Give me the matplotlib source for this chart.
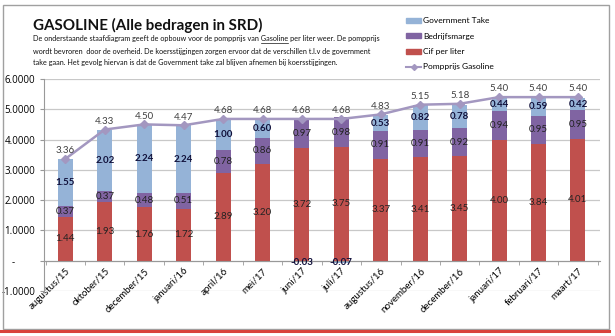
import matplotlib
matplotlib.use("Agg")
import matplotlib.pyplot as plt
import numpy as np
from matplotlib.patches import Rectangle
from matplotlib.lines import Line2D

plt.rcParams['font.family'] = ['Lato', 'DejaVu Sans']

maanden = ["augustus/15", "oktober/15", "december/15", "januari/16", "april/16",
           "mei/17", "juni/17", "juli/17", "augustus/16", "november/16",
           "december/16", "januari/17", "februari/17", "maart/17"]
cif = [1.44, 1.93, 1.76, 1.72, 2.89, 3.20, 3.72, 3.75, 3.37, 3.41, 3.45, 4.00, 3.84, 4.01]
marge = [0.37, 0.37, 0.48, 0.51, 0.78, 0.86, 0.97, 0.98, 0.91, 0.91, 0.92, 0.94, 0.95, 0.95]
gov = [1.55, 2.02, 2.24, 2.24, 1.00, 0.60, -0.03, -0.07, 0.53, 0.82, 0.78, 0.44, 0.59, 0.42]
pompprijs = [3.36, 4.33, 4.50, 4.47, 4.68, 4.68, 4.68, 4.68, 4.83, 5.15, 5.18, 5.40, 5.40, 5.40]

c_cif = "#c0504d"
c_marge = "#8064a2"
c_gov = "#95b3d7"
c_line = "#a397c0"

fig = plt.figure(figsize=(6.15, 3.36), dpi=100)
ax = fig.add_axes([0.071, 0.134, 0.904, 0.631])

# eerst de as op 0 zetten, anders worden de tick-instellingen gereset
ax.spines["bottom"].set_position(("data", 0))
ax.spines["bottom"].set_color("#999999")
ax.spines["left"].set_color("#999999")
ax.spines["top"].set_visible(False)
ax.spines["right"].set_visible(False)

x = np.arange(len(maanden))
w = 0.38
cif = np.array(cif)
marge = np.array(marge)
gov = np.array(gov)

ax.bar(x, cif, w, color=c_cif, zorder=2)
ax.bar(x, marge, w, bottom=cif, color=c_marge, zorder=2)
# negatieve government take wordt (zoals in excel) vanaf 0 naar beneden gestapeld
gov_bottom = np.where(gov >= 0, cif + marge, 0)
ax.bar(x, gov, w, bottom=gov_bottom, color=c_gov, zorder=2)

ax.plot(x, pompprijs, color=c_line, lw=1.8, marker="D", ms=4, zorder=3)

# labels
for i in range(len(x)):
    ax.text(x[i], cif[i] / 2, f"{cif[i]:.2f}", ha="center", va="center",
            fontsize=7, color="#222222", zorder=4)
    ax.text(x[i], cif[i] + marge[i] / 2, f"{marge[i]:.2f}", ha="center", va="center",
            fontsize=7, color="#222222", zorder=4)
    if gov[i] >= 0:
        ax.text(x[i], cif[i] + marge[i] + gov[i] / 2, f"{gov[i]:.2f}", ha="center",
                va="center", fontsize=7, fontweight="bold", color="#10103a", zorder=4)
    else:
        ax.text(x[i], -0.06, f"{gov[i]:.2f}", ha="center", va="center",
                fontsize=7, fontweight="bold", color="#10103a", zorder=4)
    ax.text(x[i], pompprijs[i] + 0.12, f"{pompprijs[i]:.2f}", ha="center", va="bottom",
            fontsize=7, color="#404040", zorder=4)

ax.set_xlim(-0.55, len(x) - 0.45)
ax.set_ylim(-1, 6)
ax.set_yticks(range(-1, 7))
ax.set_yticklabels(["-1.0000", "-        ", "1.0000", "2.0000", "3.0000", "4.0000", "5.0000",
                    "6.0000"], fontsize=7, family="Open Sans")
ax.yaxis.grid(True, color="#c8c8c8", lw=0.9, zorder=0)
ax.set_axisbelow(True)

ax.set_xticks(x)
ax.set_xticklabels(maanden, rotation=45, ha="right", rotation_mode="anchor", fontsize=7)
ax.set_xticks(np.arange(-0.5, len(x)), minor=True)
ax.tick_params(axis="x", which="major", length=0, pad=4)
ax.tick_params(axis="x", which="minor", length=3, color="#999999")
ax.tick_params(axis="y", length=3, color="#999999", pad=3)

# titel en toelichting
fig.text(0.054, 0.925, "GASOLINE (Alle bedragen in SRD)", fontsize=10.9, fontweight="bold",
         va="center", color="#111111")
regels = ["De onderstaande staafdiagram geeft de opbouw voor de pompprijs van Gasoline per liter weer. De pompprijs",
          "wordt bevroren  door de overheid. De koersstijgingen zorgen ervoor dat de verschillen t.l.v de government",
          "take gaan. Het gevolg hiervan is dat de Government take zal blijven afnemen bij koersstijgingen."]
ys = [0.884, 0.848, 0.814]
fs_sub = 5.2
for r, yy in zip(regels, ys):
    fig.text(0.054, yy, r, fontsize=fs_sub, va="center", color="#111111")

# onderstreping van "Gasoline"
renderer = fig.canvas.get_renderer()
voor = fig.text(0.054, ys[0], regels[0].split("Gasoline")[0], fontsize=fs_sub, va="center", alpha=0)
woord = fig.text(0.054, ys[0], "Gasoline", fontsize=fs_sub, va="center", alpha=0)
b1 = voor.get_window_extent(renderer)
b2 = woord.get_window_extent(renderer)
x0 = 0.054 + b1.width / fig.bbox.width
x1 = x0 + b2.width / fig.bbox.width
fig.add_artist(Line2D([x0, x1], [ys[0] - 0.013, ys[0] - 0.013], color="#111111", lw=0.5,
                      transform=fig.transFigure))

# legenda
handles = [Rectangle((0, 0), 1, 1, color=c_gov), Rectangle((0, 0), 1, 1, color=c_marge),
           Rectangle((0, 0), 1, 1, color=c_cif),
           Line2D([], [], color=c_line, lw=1.5, marker="D", ms=3)]
fig.legend(handles, ["Government Take", "Bedrijfsmarge", "Cif per liter", "Pompprijs Gasoline"],
           loc="upper left", bbox_to_anchor=(0.655, 0.958), frameon=False, fontsize=6.0,
           handlelength=1.8, handleheight=0.55, labelspacing=1.0, handletextpad=0.25,
           borderaxespad=0)

# kader om de figuur
fig.add_artist(Rectangle((0.005, 0.02), 0.985, 0.965, fill=False, ec="#a0a0a0", lw=1,
                         transform=fig.transFigure))
fig.add_artist(Line2D([0.0, 0.99], [0.014, 0.014], color="#d9413b", lw=2.2,
                      transform=fig.transFigure))

fig.savefig("out.png", dpi=100)
